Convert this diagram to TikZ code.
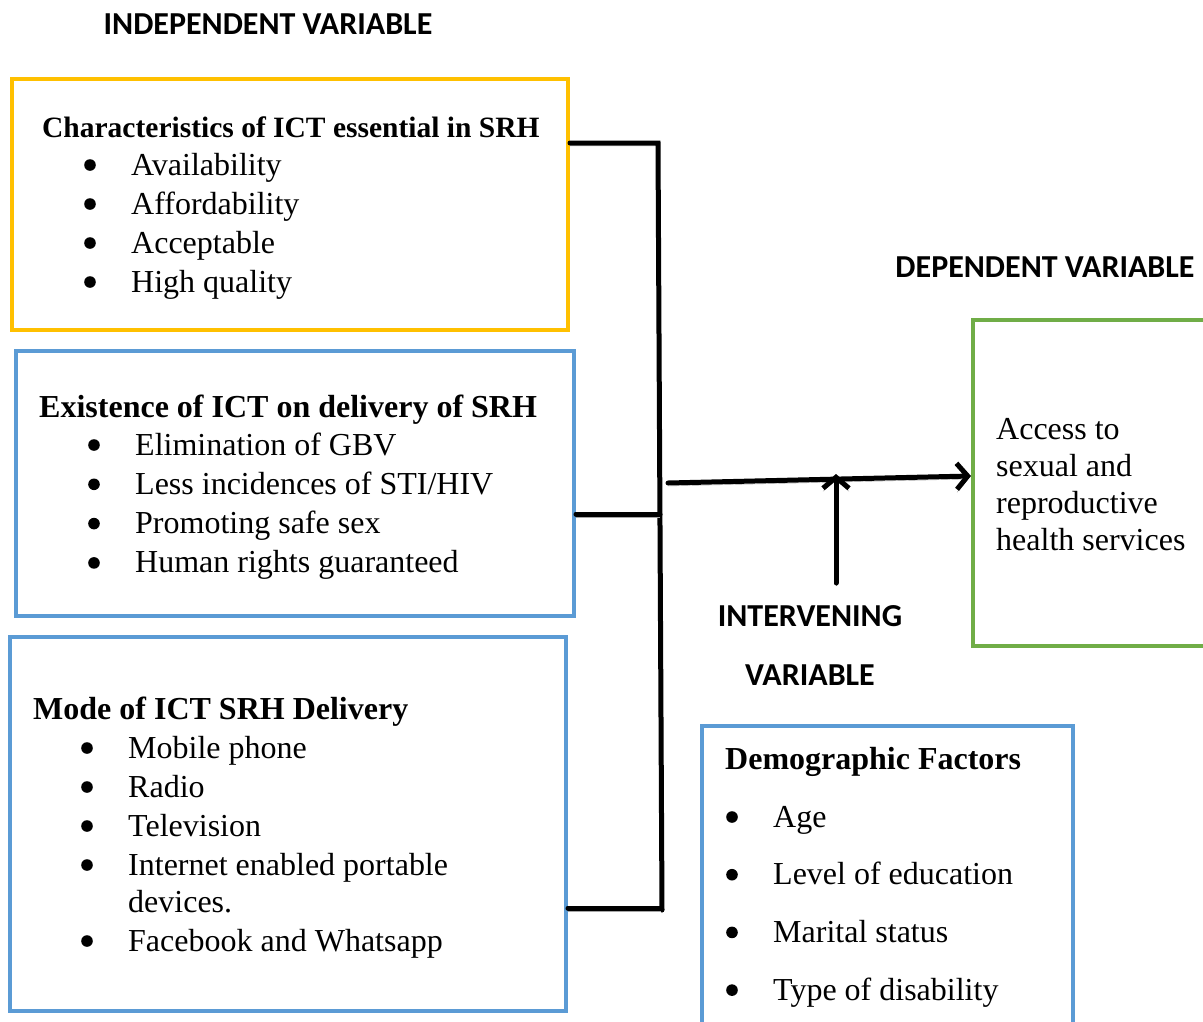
\documentclass[tikz,border=0pt]{standalone}
\usepackage{fontspec}
\setmainfont{Liberation Serif}
\newfontfamily\capfont{Carlito}
\usetikzlibrary{positioning}
\usetikzlibrary{arrows.meta}
\definecolor{myellow}{RGB}{255,192,0}
\definecolor{mblue}{RGB}{91,155,213}
\definecolor{mgreen}{RGB}{112,173,71}
\tikzset{frame/.style = {draw, line width = 4, inner sep = 0}}
\tikzset{item/.style = {anchor = base west, inner sep = 0, font = \fontsize{32}{39}\selectfont}}
\tikzset{head/.style = {anchor = base west, inner sep = 0, font = \fontsize{32}{39}\selectfont\bfseries}}
\tikzset{varlabel/.style = {anchor = base, inner sep = 0, font = \fontsize{32}{36}\selectfont\capfont\bfseries}}
\tikzset{link/.style = {line width = 5, line cap = round,
    preaction = {draw = black!35, transform canvas = {yshift = -3pt}}}}
\tikzset{arrowtip/.style = {-{Straight Barb[length = 11, width = 26, line width = 5]}}}
\newcommand{\bulletdot}[1]{\fill ([xshift = -41pt, yshift = 10pt]#1.base west) circle [radius = 5.8];}

\begin{document}
\begin{tikzpicture}[x = 1pt, y = -1pt]
  \useasboundingbox (0, 0) rectangle (1203, 1021);
  % boxes
  \node [frame, draw = myellow, minimum width = 556, minimum height = 251] (char) at (290, 204.5) {};
  \node [frame, draw = mblue, minimum width = 558, minimum height = 265] (exist) at (295, 483.5) {};
  \node [frame, draw = mblue, minimum width = 556, minimum height = 374] (mode) at (288, 824) {};
  \node [frame, draw = mgreen, minimum width = 234, minimum height = 326] (access) at (1090, 483) {};
  \node [frame, draw = mblue, minimum width = 371, minimum height = 310] (demo) at (887.5, 881) {};
  % variable labels
  \node [varlabel] (indep) at (268, 34) {INDEPENDENT VARIABLE};
  \node [varlabel] (dep) at (1045, 277) {DEPENDENT VARIABLE};
  \node [varlabel] (interv) at (810, 626) {INTERVENING};
  \node [varlabel] (var) at (810, 685) {VARIABLE};
  % box texts
  \node [head, font = \fontsize{29.5}{39}\selectfont\bfseries] (charh) at (42, 137) {Characteristics of ICT essential in SRH};
  \foreach \t [count = \i] in {Availability, Affordability, Acceptable, High quality} {
    \node [item] (c\i) at (131, 175 + 39*\i - 39) {\t};
    \bulletdot{c\i}
  }
  \node [head] (existh) at (39, 417) {Existence of ICT on delivery of SRH};
  \foreach \t [count = \i] in {Elimination of GBV, Less incidences of STI/HIV,
    Promoting safe sex, Human rights guaranteed} {
    \node [item] (e\i) at (135, 455 + 39.3*\i - 39.3) {\t};
    \bulletdot{e\i}
  }
  \node [head] (modeh) at (33, 719) {Mode of ICT SRH Delivery};
  \foreach \t/\y [count = \i] in {Mobile phone/758, Radio/797, Television/836,
    Internet enabled portable/875, Facebook and Whatsapp/951} {
    \node [item] (m\i) at (128, \y) {\t};
    \bulletdot{m\i}
  }
  \node [item] (m6) at (128, 912) {devices.};
  \foreach \t [count = \i] in {Access to, sexual and, reproductive, health services}
    \node [item] (a\i) at (996, 439 + 37*\i - 37) {\t};
  \node [head] (demoh) at (725, 769) {Demographic Factors};
  \foreach \t [count = \i] in {Age, Level of education, Marital status, Type of disability} {
    \node [item] (d\i) at (773, 827 + 57.7*\i - 57.7) {\t};
    \bulletdot{d\i}
  }
  % connectors
  \coordinate (top) at (658, 143);
  \coordinate (bot) at (662, 910);
  \coordinate (j2) at (660, 514);
  \coordinate (j3) at (661, 908);
  \coordinate (out) at (668, 483);
  \coordinate (up) at (836, 583);
  \coordinate (meet) at (836, 474);
  \draw [link] (char.east |- top) -- (top) -- (bot);
  \draw [link] (exist.east |- j2) -- (j2);
  \draw [link] (mode.east |- j3) -- (j3);
  \draw [link, arrowtip] (out) -- ([yshift = 7]access.west);
  \draw [link, arrowtip] (up) -- (meet);
\end{tikzpicture}
\end{document}
